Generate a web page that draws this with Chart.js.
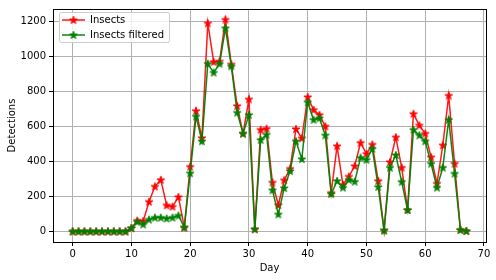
<!DOCTYPE html>
<html>
<head>
    <meta charset='UTF-8'>
    <script src="https://cdn.jsdelivr.net/npm/chart.js"></script>
    <style>
        body { margin: 0; background: #fff; }
    </style>
</head>
<title>Insect detections</title>

<body>
    <canvas id="myChart" width="496" height="280"></canvas>
    <script>
        const days = [
            0, 1, 2, 3, 4, 5, 6, 7, 8, 9,
            10, 11, 12, 13, 14, 15, 16, 17, 18, 19,
            20, 21, 22, 23, 24, 25, 26, 27, 28, 29,
            30, 31, 32, 33, 34, 35, 36, 37, 38, 39,
            40, 41, 42, 43, 44, 45, 46, 47, 48, 49,
            50, 51, 52, 53, 54, 55, 56, 57, 58, 59,
            60, 61, 62, 63, 64, 65, 66, 67
        ];
        const insects = [
            0, 0, 0, 0, 0, 0, 0, 0, 0, 0,
            19, 62, 59, 170, 257, 295, 149, 142, 197, 23,
            370, 690, 535, 1191, 970, 973, 1212, 956, 718, 560,
            756, 13, 582, 588, 280, 151, 293, 359, 586, 533,
            769, 696, 667, 601, 221, 488, 267, 314, 374, 507,
            444, 497, 289, 6, 397, 539, 365, 123, 673, 607,
            560, 425, 274, 493, 777, 388, 9, 2
        ];
        const insectsFiltered = [
            0, 0, 0, 0, 0, 0, 0, 0, 0, 0,
            19, 55, 40, 68, 79, 79, 74, 79, 91, 23,
            333, 658, 516, 960, 909, 960, 1163, 945, 680, 560,
            667, 13, 524, 554, 236, 98, 248, 346, 516, 414,
            739, 639, 648, 550, 214, 289, 251, 295, 285, 422,
            410, 473, 255, 6, 365, 437, 284, 123, 582, 550,
            516, 388, 251, 365, 639, 331, 9, 2
        ];
        const xTicks = [0, 10, 20, 30, 40, 50, 60, 70];
        const yTicks = [0, 200, 400, 600, 800, 1000, 1200];

        const FONT = { family: 'DejaVu Sans', size: 10 };

        // filled five point star like matplotlib '*'
        function starImage(color) {
            const c = document.createElement('canvas');
            c.width = 10; c.height = 10;
            const ctx = c.getContext('2d');
            const R = 4, r = R * 0.382;
            ctx.beginPath();
            for (let i = 0; i < 10; i++) {
                const rad = i % 2 ? r : R;
                const a = -Math.PI / 2 + i * Math.PI / 5;
                const px = 5 + rad * Math.cos(a), py = 5.3 + rad * Math.sin(a);
                if (i == 0) ctx.moveTo(px, py); else ctx.lineTo(px, py);
            }
            ctx.closePath();
            ctx.fillStyle = color;
            ctx.strokeStyle = color;
            ctx.lineWidth = 1;
            ctx.fill();
            ctx.stroke();
            return c;
        }

        const redStar = starImage('#ff0000');
        const greenStar = starImage('#008000');

        const legendBox = {
            id: 'legendBox',
            afterDatasetsDraw(chart) {
                const ctx = chart.ctx;
                const x = 59.5, y = 12.5, w = 110, h = 30;
                ctx.save();
                ctx.fillStyle = 'rgba(255,255,255,0.8)';
                ctx.strokeStyle = '#cccccc';
                ctx.lineWidth = 1;
                ctx.beginPath();
                ctx.roundRect(x, y, w, h, 2);
                ctx.fill();
                ctx.stroke();
                ctx.font = '10px "DejaVu Sans"';
                ctx.textBaseline = 'middle';
                ctx.fillStyle = '#000';
                chart.data.datasets.forEach((ds, i) => {
                    const ly = 20 + i * 15;
                    ctx.strokeStyle = ds.borderColor;
                    ctx.lineWidth = 1.5;
                    ctx.beginPath();
                    ctx.moveTo(62, ly);
                    ctx.lineTo(85, ly);
                    ctx.stroke();
                    ctx.drawImage(ds.pointStyle, 73.5 - 5, ly - 5);
                    ctx.fillText(ds.label, 90, ly + 0.5);
                });
                ctx.restore();
            }
        };

        const frame = {
            id: 'frame',
            afterDraw(chart) {
                const a = chart.chartArea;
                const ctx = chart.ctx;
                ctx.save();
                ctx.strokeStyle = '#000';
                ctx.lineWidth = 1;
                ctx.strokeRect(Math.round(a.left) + 0.5, Math.round(a.top) + 0.5,
                    Math.round(a.right - a.left), Math.round(a.bottom - a.top));
                ctx.restore();
            }
        };

        const data = {
            datasets: [{
                label: 'Insects',
                order: 1,
                borderColor: 'rgba(255, 0, 0, 0.9)',
                backgroundColor: '#ff0000',
                pointStyle: redStar,
                borderWidth: 1.5,
                data: days.map((d, i) => ({ x: d, y: insects[i] })),
            }, {
                label: 'Insects filtered',
                order: 0,
                borderColor: 'rgba(0, 128, 0, 0.95)',
                backgroundColor: '#008000',
                pointStyle: greenStar,
                borderWidth: 1.5,
                data: days.map((d, i) => ({ x: d, y: insectsFiltered[i] })),
            }]
        };

        const config = {
            type: 'line',
            data: data,
            plugins: [legendBox, frame],
            options: {
                responsive: false,
                devicePixelRatio: 1,
                animation: false,
                layout: { padding: { top: 6, right: 10, left: 0, bottom: 0 } },
                elements: { line: { tension: 0 } },
                plugins: { legend: { display: false }, tooltip: { enabled: false } },
                scales: {
                    x: {
                        type: 'linear',
                        min: -3.35,
                        max: 70.35,
                        afterBuildTicks: s => { s.ticks = xTicks.map(v => ({ value: v })); },
                        afterFit: s => { s.height = 38; },
                        grid: { color: '#b0b0b0', tickColor: '#000', tickLength: 4 },
                        border: { color: '#000' },
                        ticks: { font: FONT, color: '#000', padding: 2, maxRotation: 0, autoSkip: false,
                            callback: v => String(v) },
                        title: { display: true, text: 'Day', font: FONT, color: '#000', padding: { top: 0, bottom: 6 } }
                    },
                    y: {
                        min: -60.6,
                        max: 1272.6,
                        afterBuildTicks: s => { s.ticks = yTicks.map(v => ({ value: v })); },
                        afterFit: s => { s.width = 53; },
                        grid: { color: '#b0b0b0', tickColor: '#000', tickLength: 4 },
                        border: { color: '#000' },
                        ticks: { font: FONT, color: '#000', padding: 3, autoSkip: false,
                            callback: v => String(v) },
                        title: { display: true, text: 'Detections', font: FONT, color: '#000', padding: { top: 6, bottom: 0 } }
                    }
                }
            }
        };
        const myChart = new Chart(document.getElementById('myChart'), config);
    </script>
</body>

</html>
